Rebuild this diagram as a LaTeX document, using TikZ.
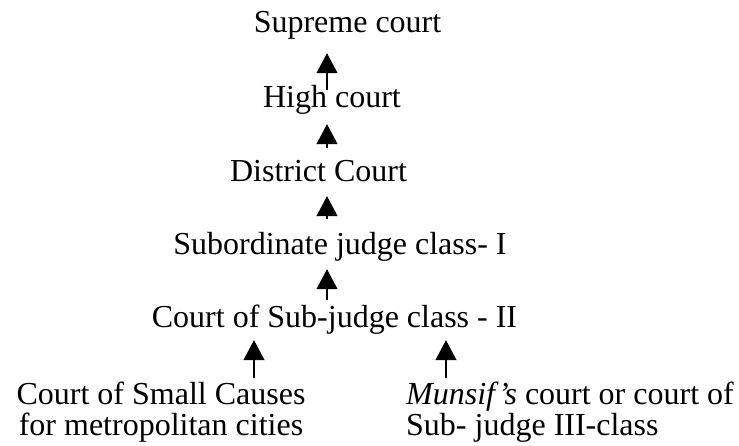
\documentclass[tikz,border=0pt]{standalone}
\usepackage{fontspec}
\setmainfont{Liberation Serif}
\usetikzlibrary{arrows.meta}
\tikzset{
  court/.style={inner sep=0pt, text height=22pt, text depth=7pt, font=\fontsize{32}{38}\selectfont},
  lowcourt/.style={inner sep=0pt, font=\fontsize{32}{31}\selectfont},
  up/.style={line width=1.2pt, -{Triangle[length=20pt,width=21pt]}}
}
\begin{document}
\begin{tikzpicture}[x=1pt,y=-1pt]
\useasboundingbox (0,0) rectangle (739,446);
%gradi della gerarchia
\node[court,anchor=base] (supreme) at (347.5,33) {Supreme court};
\node[court,anchor=base] (high) at (332,108) {High court};
\node[court,anchor=base] (district) at (318.5,182) {District Court};
\node[court,anchor=base] (subone) at (340,255) {Subordinate judge class- I};
\node[court,anchor=base] (subtwo) at (334.5,327) {Court of Sub-judge class - II};
%corti minori
\node[lowcourt,anchor=north,align=center] (small) at (161,382) {Court of Small Causes\\ for metropolitan cities};
\node[lowcourt,anchor=north west,align=left] (munsif) at (406,382) {\textit{Munsif's} court or court of\\ Sub- judge III-class};
%frecce
\coordinate (spine) at (327,0);
\coordinate (leftup) at (254,0);
\coordinate (rightup) at (446,0);
\draw[up,shorten <=-4pt,shorten >=13pt] (high.north -| spine) -- (supreme.south -| spine);
\draw[up,shorten <=12pt,shorten >=9pt] (district.north -| spine) -- (high.south -| spine);
\draw[up,shorten <=14pt,shorten >=7pt] (subone.north -| spine) -- (district.south -| spine);
\draw[up,shorten <=5pt,shorten >=7pt] (subtwo.north -| spine) -- (subone.south -| spine);
\draw[up,shorten <=4pt,shorten >=6pt] (small.north -| leftup) -- (subtwo.south -| leftup);
\draw[up,shorten <=4pt,shorten >=6pt] (munsif.north -| rightup) -- (subtwo.south -| rightup);
\end{tikzpicture}
\end{document}
